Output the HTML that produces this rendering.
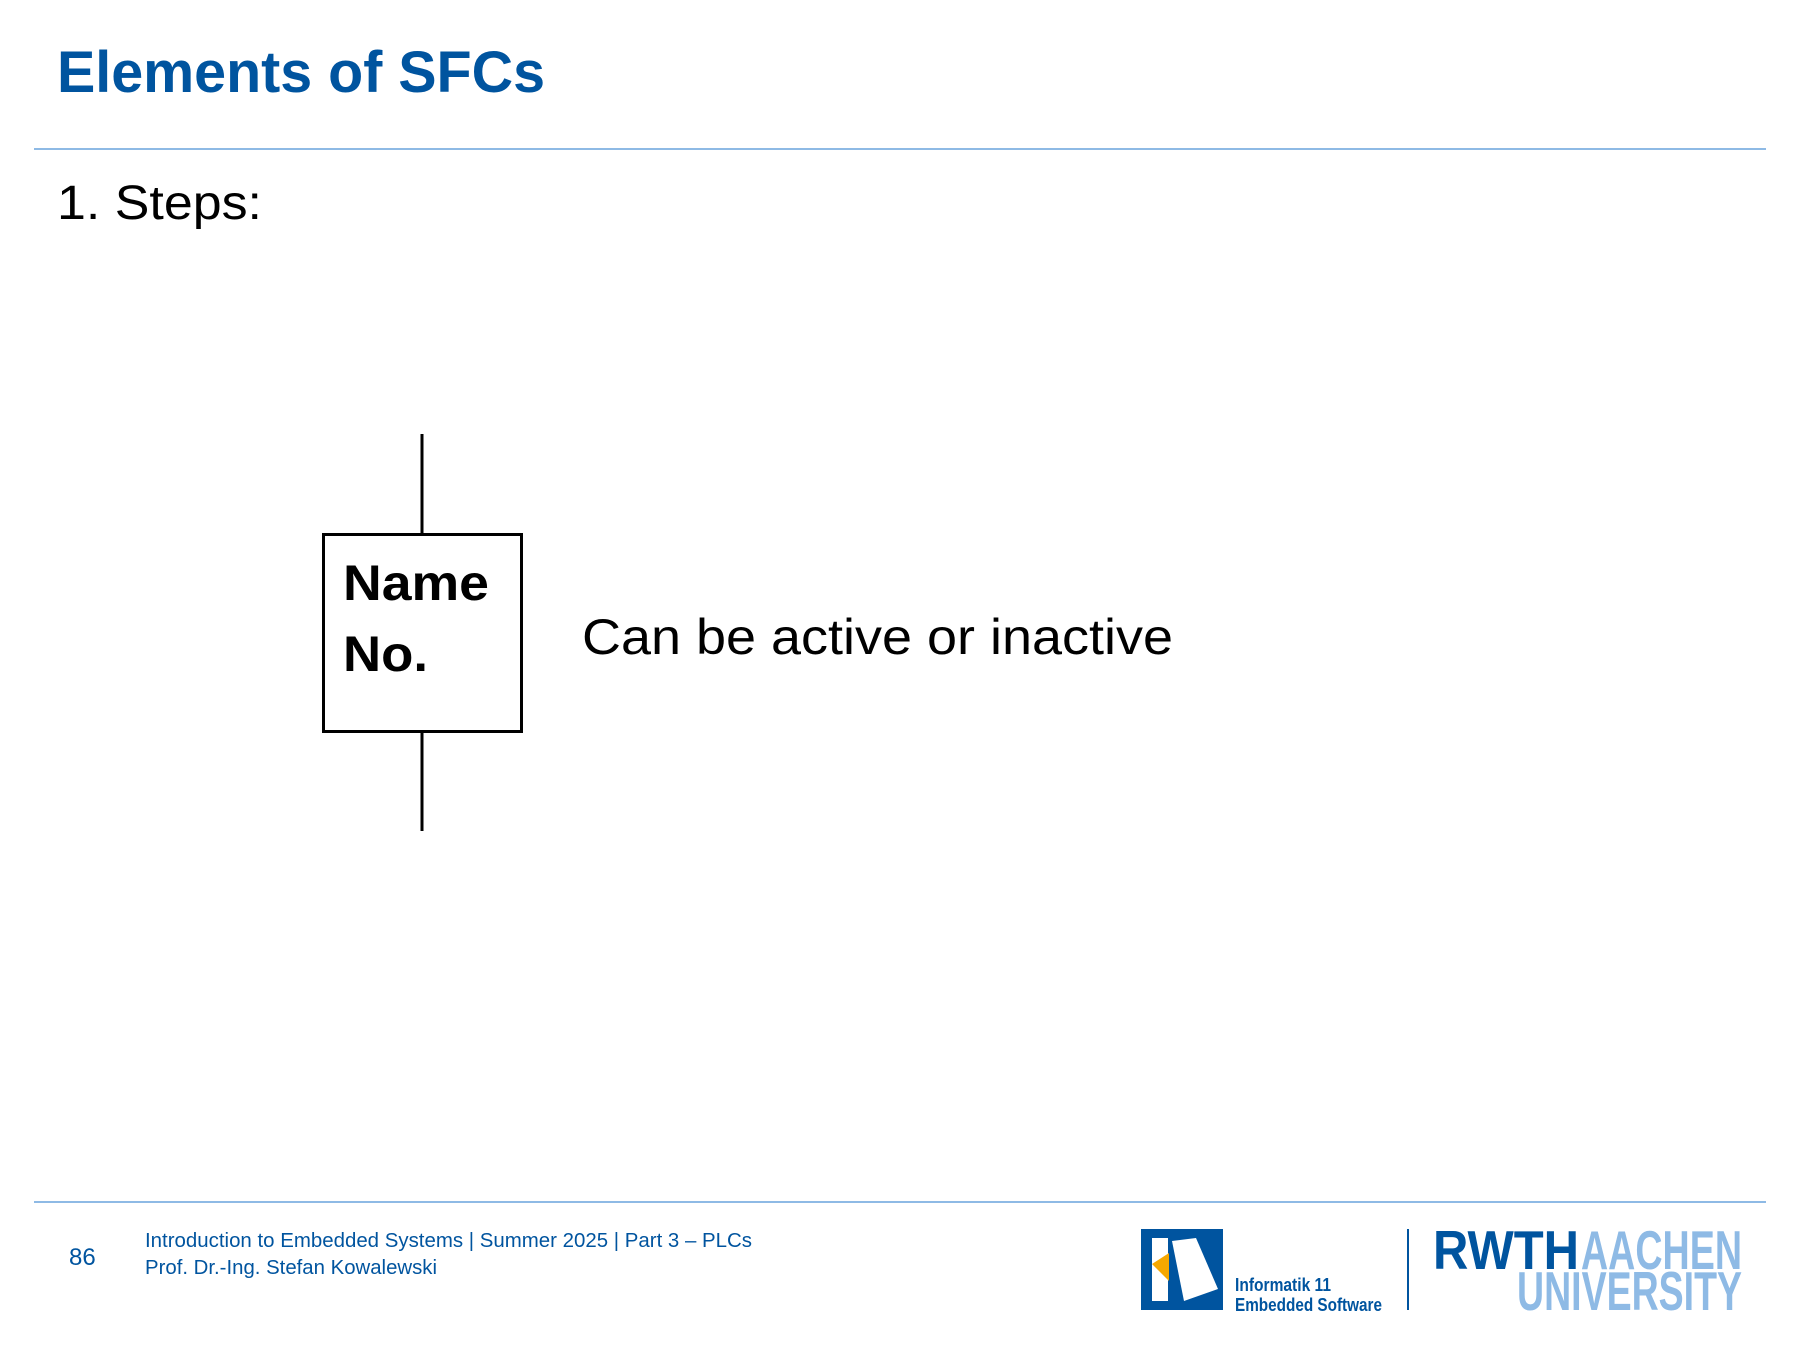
<!DOCTYPE html>
<html><head><meta charset="utf-8"><style>
body{margin:0;width:1800px;height:1350px;background:#fff;position:relative;overflow:hidden;font-family:"Liberation Sans",sans-serif}
div{position:absolute;white-space:nowrap}
</style></head><body>
<div style="left:34px;top:148px;width:1732px;height:2px;background:#8ebae5"></div>
<div style="left:34px;top:1201px;width:1732px;height:2px;background:#8ebae5"></div>
<svg style="position:absolute;left:0;top:0" width="1800" height="1350" font-family="Liberation Sans">
<text x="57" y="92" font-size="58" font-weight="bold" fill="#00549f" textLength="488" lengthAdjust="spacingAndGlyphs">Elements of SFCs</text>
<text x="57" y="219" font-size="48" fill="#000" textLength="205" lengthAdjust="spacingAndGlyphs">1. Steps:</text>
<line x1="422" y1="434" x2="422" y2="534" stroke="#000" stroke-width="3"/>
<rect x="323.5" y="534.5" width="198" height="197" fill="#fff" stroke="#000" stroke-width="3"/>
<line x1="422" y1="731" x2="422" y2="831" stroke="#000" stroke-width="3"/>
<text x="343" y="600" font-weight="bold" font-size="50" textLength="146" lengthAdjust="spacingAndGlyphs">Name</text>
<text x="343" y="671" font-weight="bold" font-size="50" textLength="85" lengthAdjust="spacingAndGlyphs">No.</text>
<text x="582" y="654" font-size="50" textLength="591" lengthAdjust="spacingAndGlyphs">Can be active or inactive</text>
<text x="69" y="1265" font-size="24" fill="#00549f">86</text>
<text x="145" y="1247" font-size="20" fill="#00549f" textLength="607" lengthAdjust="spacingAndGlyphs">Introduction to Embedded Systems | Summer 2025 | Part 3 – PLCs</text>
<text x="145" y="1274" font-size="20" fill="#00549f" textLength="292" lengthAdjust="spacingAndGlyphs">Prof. Dr.-Ing. Stefan Kowalewski</text>
<g transform="translate(1141,1229)">
<rect width="82" height="81" fill="#00549f"/>
<polygon points="11,9 27,9 27,72 11,72" fill="#fff"/>
<polygon points="31,12 55,9 77,60 43,72" fill="#fff"/>
<polygon points="11,35 28,24 28,52" fill="#f6a800"/>
</g>
<text x="1235" y="1291" font-size="18" font-weight="bold" fill="#00549f" textLength="96" lengthAdjust="spacingAndGlyphs">Informatik 11</text>
<text x="1235" y="1311" font-size="18" font-weight="bold" fill="#00549f" textLength="147" lengthAdjust="spacingAndGlyphs">Embedded Software</text>
<rect x="1407" y="1229" width="2" height="81" fill="#00549f"/>
<text x="1433" y="1269" font-size="55" font-weight="bold" fill="#00549f" textLength="146" lengthAdjust="spacingAndGlyphs">RWTH</text>
<text x="1581" y="1269" font-size="55" font-weight="bold" fill="#8ebae5" textLength="161" lengthAdjust="spacingAndGlyphs">AACHEN</text>
<text x="1517" y="1310" font-size="55" font-weight="bold" fill="#8ebae5" textLength="225" lengthAdjust="spacingAndGlyphs">UNIVERSITY</text>
</svg>
</body></html>
